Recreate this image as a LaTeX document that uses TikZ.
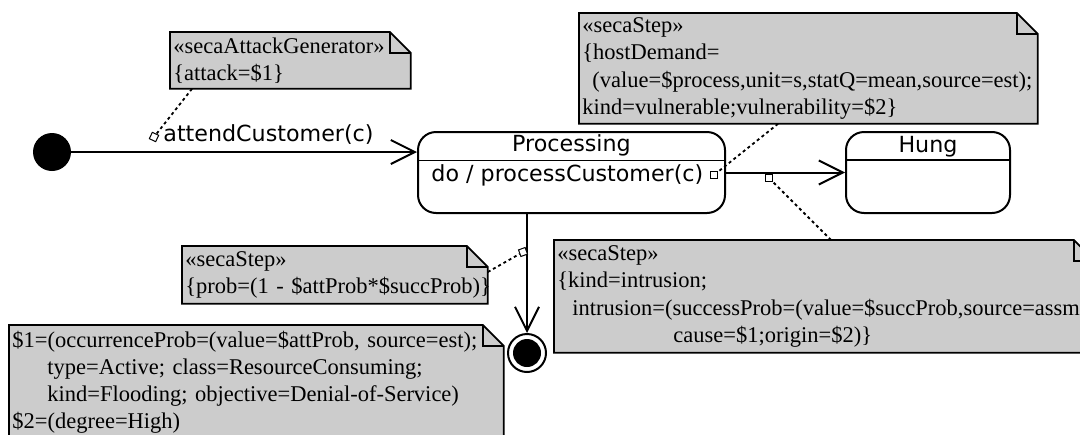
\documentclass[tikz,border=0pt]{standalone}
\usepackage{fontspec}
\newfontfamily\notefont{Liberation Serif}
\newfontfamily\umlfont{DejaVu Sans}
\usetikzlibrary{arrows.meta,backgrounds}
\definecolor{notegray}{RGB}{204,204,204}
\begin{document}
\begin{tikzpicture}[x=0.5pt,y=-0.5pt]
\tikzstyle{st} = [draw,line width=1pt,rounded corners=9pt,fill=white,minimum height=40.5pt] %state
\tikzstyle{tr} = [line width=1pt,-{Straight Barb[length=12pt,width=12pt]}] %transition
\tikzstyle{nt} = [anchor=north west,inner xsep=1.5pt,inner ysep=0pt,align=left,font=\notefont\fontsize{11.25}{13.6}\selectfont] %note
\tikzstyle{nl} = [line width=0.9pt,dash pattern=on 1.5pt off 1.5pt] %note link
\tikzstyle{sq} = [draw,fill=white,line width=0.5pt,minimum size=3.5pt,inner sep=0pt] %anchor square
\tikzstyle{lb} = [font=\umlfont\fontsize{11.1}{13}\selectfont,inner sep=0pt] %label
\useasboundingbox (0,0) rectangle (1080,434);
% notes
\node[nt,text width=117pt,minimum height=28pt](gen)at(170,32){«secaAttackGenerator»\\\{attack=\$1\}};
\node[nt,text width=226pt,minimum height=55pt](host)at(579,13){«secaStep»\\\{hostDemand=\\\hspace*{5pt}(value=\$process,unit=s,statQ=mean,source=est);\\kind=vulnerable;vulnerability=\$2\}};
\node[nt,text width=267pt,minimum height=56pt](intr)at(554,240){«secaStep»\\\{kind=intrusion;\\\hspace*{7.5pt}intrusion=(successProb=(value=\$succProb,source=assm)\\\hspace*{58pt}cause=\$1;origin=\$2)\}};
\node[nt,text width=149.5pt,minimum height=28.5pt](prob)at(182,246){«secaStep»\\\mbox{\{prob=(1 - \$attProb*\$succProb)\}}};
\node[nt,text width=244pt,minimum height=57pt](attk)at(9,325){\mbox{\$1=(occurrenceProb=(value=\$attProb, source=est);}\\\hspace*{17.5pt}type=Active; class=ResourceConsuming;\\\hspace*{17.5pt}\mbox{kind=Flooding; objective=Denial-of-Service)}\\\$2=(degree=High)};
\begin{scope}[on background layer]
\foreach \n in {gen,host,intr,prob,attk}{
  \filldraw[fill=notegray,line width=0.9pt](\n.south west)--(\n.north west)--([xshift=-10.5pt]\n.north east)--([yshift=-10.5pt]\n.north east)--(\n.south east)--cycle;
  \draw[line width=0.9pt]([xshift=-10.5pt]\n.north east)|-([yshift=-10.5pt]\n.north east);
}
\end{scope}
% states
\node[circle,fill=black,minimum size=19pt,inner sep=0pt](init)at(52,152){};
\node[st,minimum width=153.5pt](proc)at(571.5,172.5){};
\node[st,minimum width=82pt](hung)at(928,172.5){};
\node[circle,draw,line width=1pt,fill=white,minimum size=19pt,inner sep=0pt](final)at(527,353){};
\node[circle,fill=black,minimum size=14pt,inner sep=0pt](finaldot)at(final){};
\node[lb,anchor=base](procname)at([yshift=-10pt]proc.north){Processing};
\draw[line width=0.5pt]([yshift=-14.5pt]proc.north west)--([yshift=-14.5pt]proc.north east);
\node[lb,anchor=base west](procdo)at([xshift=7pt,yshift=-25pt]proc.north west){do / processCustomer(c)};
\node[lb,anchor=base](hungname)at([yshift=-10.5pt]hung.north){Hung};
\draw[line width=1.2pt]([yshift=-14.5pt]hung.north west)--([yshift=-14.5pt]hung.north east);
% transitions
\draw[tr](init)--(init-|proc.west);
\node[lb,anchor=base west](attend)at(163,141){attendCustomer(c)};
\draw[tr](proc)--(hung);
\draw[tr](final|-proc.south)--(final);
% anchors
\node[sq,rotate=-25](s1)at(154,137){};
\node[sq](s2)at(714,175){};
\node[sq](s3)at(769,178){};
\node[sq,rotate=20](s4)at(523,252){};
\draw[nl]([xshift=11pt]gen.south west)--(s1);
\draw[nl]([xshift=99.5pt]host.south west)--(s2);
\draw[nl]([xshift=138.5pt]intr.north west)--(s3);
\draw[nl]([yshift=-13pt]prob.north east)--(s4);
\end{tikzpicture}
\end{document}
